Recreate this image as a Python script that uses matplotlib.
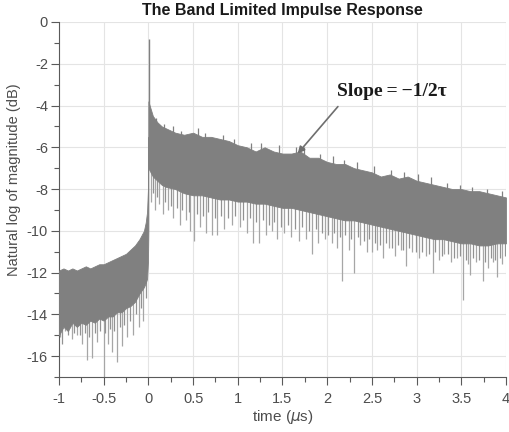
import numpy as np
import matplotlib
matplotlib.use("Agg")
import matplotlib.pyplot as plt
from matplotlib.ticker import MultipleLocator

plt.rcParams["font.family"] = ["Liberation Sans", "DejaVu Sans"]
plt.rcParams["axes.unicode_minus"] = False

# 0 이전 구간: 위/아래 포락선
t_pre = [-1.0, -0.95, -0.9, -0.85, -0.8, -0.75, -0.7, -0.65, -0.6, -0.55, -0.5,
         -0.45, -0.4, -0.35, -0.3, -0.25, -0.2, -0.15, -0.1, -0.05, -0.03, -0.015, -0.005, 0.0]
upper_pre = [-11.9, -11.8, -11.9, -11.8, -11.9, -11.8, -11.7, -11.8, -11.7, -11.6, -11.6,
             -11.5, -11.4, -11.3, -11.2, -11.1, -10.9, -10.7, -10.4, -10.0, -9.6, -9.1, -8.0, -5.5]
lower_pre = [-15.0, -14.6, -14.8, -14.4, -14.6, -14.4, -14.5, -14.3, -14.4, -14.2, -14.3,
             -14.1, -14.1, -13.9, -13.9, -13.7, -13.6, -13.4, -13.0, -12.7, -12.5, -12.3, -11.5, -10.0]

# 0 이후 구간
t_post = [0.0, 0.05, 0.1, 0.15, 0.2, 0.3, 0.4, 0.5, 0.6, 0.7, 0.8, 0.9, 1.0, 1.1, 1.2, 1.3,
          1.4, 1.5, 1.6, 1.7, 1.8, 1.9, 2.0, 2.1, 2.2, 2.3, 2.4, 2.5, 2.6, 2.7, 2.8, 2.9,
          3.0, 3.1, 3.2, 3.3, 3.4, 3.5, 3.6, 3.7, 3.8, 3.9, 4.0]
upper_post = [-3.8, -4.5, -4.8, -5.0, -5.1, -5.3, -5.4, -5.3, -5.5, -5.5, -5.6, -5.7, -5.9,
              -6.0, -6.2, -6.0, -6.2, -6.3, -6.3, -6.2, -6.5, -6.5, -6.7, -6.8, -6.8, -7.0,
              -7.1, -7.2, -7.4, -7.3, -7.5, -7.4, -7.6, -7.7, -7.8, -7.9, -8.0, -8.0, -8.1,
              -8.1, -8.2, -8.3, -8.4]
lower_post = [-7.0, -7.4, -7.6, -7.8, -7.9, -8.0, -8.2, -8.3, -8.3, -8.4, -8.5, -8.5, -8.6,
              -8.6, -8.7, -8.7, -8.8, -8.9, -8.9, -9.0, -9.1, -9.2, -9.3, -9.4, -9.5, -9.5,
              -9.6, -9.7, -9.8, -9.9, -10.0, -10.1, -10.2, -10.3, -10.4, -10.4, -10.5, -10.6,
              -10.6, -10.7, -10.7, -10.6, -10.6]

# 아래로 튀는 긴 스파이크 (시간, 최저값)
spike_pre_t = [-0.99, -0.93, -0.86, -0.8, -0.74, -0.69, -0.63, -0.57, -0.5, -0.45, -0.41,
               -0.35, -0.3, -0.24, -0.17, -0.11, -0.06]
spike_pre_y = [-15.1, -14.8, -15.2, -15.0, -15.4, -16.2, -16.1, -15.3, -17.0, -15.4, -15.8,
               -16.3, -15.5, -15.1, -15.0, -14.6, -14.3]
spike_post_t = [0.03, 0.07, 0.12, 0.16, 0.22, 0.28, 0.35, 0.42, 0.47, 0.51, 0.58, 0.64, 0.71,
                0.77, 0.85, 0.93, 1.02, 1.1, 1.17, 1.24, 1.32, 1.38, 1.44, 1.52, 1.6, 1.68,
                1.76, 1.83, 1.9, 1.97, 2.05, 2.11, 2.17, 2.24, 2.3, 2.37, 2.44, 2.5, 2.56,
                2.62, 2.69, 2.76, 2.82, 2.88, 2.95, 3.03, 3.1, 3.18, 3.25, 3.31, 3.38, 3.45,
                3.52, 3.57, 3.6, 3.67, 3.74, 3.8, 3.86, 3.9, 3.96]
spike_post_y = [-8.6, -9.0, -8.7, -9.2, -9.0, -9.4, -9.7, -9.5, -10.0, -10.5, -9.8, -10.1,
                -10.2, -10.2, -9.9, -9.7, -9.8, -10.1, -10.6, -10.6, -10.2, -10.0, -10.4,
                -10.1, -10.3, -10.5, -10.4, -11.1, -10.6, -10.4, -10.6, -10.8, -12.4, -10.9,
                -12.0, -10.7, -11.0, -11.0, -10.9, -11.3, -10.8, -11.2, -10.9, -11.7, -11.0,
                -11.3, -11.2, -12.0, -11.4, -11.1, -11.5, -11.3, -13.3, -11.6, -12.1, -11.5,
                -12.4, -11.8, -11.5, -12.2, -11.6]

# 짧은 스파이크 (밴드 바로 아래)
short_pre_t = [-0.97, -0.9, -0.83, -0.77, -0.71, -0.66, -0.6, -0.54, -0.48, -0.43, -0.38,
               -0.32, -0.27, -0.21, -0.14, -0.08, -0.03]
short_pre_y = [-15.4, -15.0, -14.9, -15.0, -14.9, -15.1, -14.9, -14.8, -14.9, -14.7, -14.8,
               -14.6, -14.5, -14.3, -14.0, -13.7, -13.2]
short_post_t = [0.05, 0.1, 0.19, 0.25, 0.32, 0.38, 0.45, 0.54, 0.61, 0.67, 0.74, 0.81, 0.89,
                0.97, 1.06, 1.14, 1.2, 1.28, 1.35, 1.41, 1.48, 1.56, 1.64, 1.72, 1.8, 1.87,
                1.94, 2.01, 2.08, 2.14, 2.2, 2.27, 2.34, 2.41, 2.47, 2.53, 2.59, 2.66, 2.72,
                2.79, 2.85, 2.92, 2.99, 3.06, 3.14, 3.21, 3.28, 3.35, 3.42, 3.48, 3.55, 3.63,
                3.7, 3.77, 3.83, 3.88, 3.93, 3.99]
short_post_y = [-8.2, -8.4, -8.6, -8.8, -8.9, -9.0, -9.1, -9.2, -9.3, -9.1, -9.4, -9.3, -9.4,
                -9.3, -9.5, -9.4, -9.6, -9.5, -9.7, -9.6, -9.8, -9.7, -9.9, -9.8, -10.0, -9.9,
                -10.1, -10.2, -10.1, -10.3, -10.2, -10.4, -10.3, -10.5, -10.4, -10.6, -10.7,
                -10.6, -10.8, -10.7, -10.9, -10.8, -11.0, -11.0, -11.1, -11.0, -11.2, -11.1,
                -11.3, -11.2, -11.4, -11.3, -11.4, -11.5, -11.3, -11.4, -11.3, -11.2]

# 위로 튀는 톱니 (시간, 최고값)
tooth_t = [0.08, 0.18, 0.27, 0.36, 0.55, 0.63, 0.83, 0.96, 1.15, 1.26, 1.46, 1.65, 1.74,
           1.92, 2.07, 2.19, 2.33, 2.52, 2.71, 2.86, 3.02, 3.16, 3.34, 3.49, 3.62, 3.79, 3.95]
tooth_y = [-4.6, -4.9, -5.0, -5.2, -5.1, -5.3, -5.4, -5.6, -5.8, -5.8, -5.9, -6.0, -6.0,
           -6.3, -6.4, -6.6, -6.7, -6.9, -7.1, -7.2, -7.3, -7.4, -7.7, -7.8, -7.9, -8.0, -8.1]

peak_t = 0.007
peak_y = -0.8

x_ticks = [-1, -0.5, 0, 0.5, 1, 1.5, 2, 2.5, 3, 3.5, 4]
x_ticklabels = ["-1", "-0.5", "0", "0.5", "1", "1.5", "2", "2.5", "3", "3.5", "4"]
y_ticks = [0, -2, -4, -6, -8, -10, -12, -14, -16]

SIG = "#808080"
SPIKE = "#a6a6a6"
TXT = "#4d4d4d"

fig = plt.figure(figsize=(5.09, 4.32), dpi=100)
ax = fig.add_axes([0.1159, 0.1273, 0.8782, 0.8218])

# 스파이크는 밴드 뒤에 그려서 밴드와 이어지게
ax.vlines(spike_pre_t, spike_pre_y, np.interp(spike_pre_t, t_pre, lower_pre) + 0.3,
          color=SPIKE, lw=0.9, zorder=2)
ax.vlines(spike_post_t, spike_post_y, np.interp(spike_post_t, t_post, lower_post) + 0.3,
          color=SPIKE, lw=0.9, zorder=2)
ax.vlines(short_pre_t, short_pre_y, np.interp(short_pre_t, t_pre, lower_pre) + 0.3,
          color="#929292", lw=0.9, zorder=2)
ax.vlines(short_post_t, short_post_y, np.interp(short_post_t, t_post, lower_post) + 0.3,
          color="#929292", lw=0.9, zorder=2)
ax.vlines(tooth_t, np.interp(tooth_t, t_post, upper_post) - 0.3, tooth_y,
          color=SIG, lw=0.9, zorder=2)
ax.fill_between(t_pre, lower_pre, upper_pre, color=SIG, lw=0.6, edgecolor=SIG, zorder=3)
ax.fill_between(t_post, lower_post, upper_post, color=SIG, lw=0.6, edgecolor=SIG, zorder=3)
ax.vlines([peak_t], [lower_post[0]], [peak_y], color=SIG, lw=1.0, zorder=3)

ax.set_xlim(-1, 4)
ax.set_ylim(-17, 0)
ax.set_xticks(x_ticks)
ax.set_xticklabels(x_ticklabels)
ax.set_yticks(y_ticks)
ax.xaxis.set_minor_locator(MultipleLocator(0.25))
ax.yaxis.set_minor_locator(MultipleLocator(1))
ax.grid(True, which="major", color="#e4e4e4", lw=0.8, zorder=0)
ax.set_axisbelow(True)
for s in ["top", "right"]:
    ax.spines[s].set_visible(False)
for s in ["left", "bottom"]:
    ax.spines[s].set_color("#5a5a5a")
    ax.spines[s].set_linewidth(0.8)
ax.tick_params(which="major", direction="out", length=6, width=0.8, color="#5a5a5a",
               labelsize=10.5, labelcolor=TXT)
ax.tick_params(axis="x", which="major", pad=5)
ax.tick_params(axis="y", which="major", pad=2)
ax.tick_params(which="minor", direction="out", length=3.5, width=0.8, color="#5a5a5a")

ax.set_xlabel("time ($\\mu$s)", fontsize=11, color=TXT, labelpad=1)
ax.set_ylabel("Natural log of magnitude (dB)", fontsize=10.5, color=TXT)
ax.yaxis.set_label_coords(-0.085, 0.555)
ax.set_title("The Band Limited Impulse Response", fontsize=11.5, fontweight="bold",
             color="#1a1a1a", pad=5)

ax.annotate("", xy=(1.67, -6.3), xytext=(2.12, -4.05),
            arrowprops=dict(arrowstyle="-|>", color="#6e6e6e", lw=1.2,
                            mutation_scale=10, shrinkA=0, shrinkB=0), zorder=5)
ax.text(2.72, -3.33, "Slope\u2009=\u2009\u22121/2\u03c4", family=["Liberation Serif", "DejaVu Serif"],
        fontweight="bold", fontsize=14, ha="center", va="center", color="#1a1a1a", zorder=6)

fig.savefig("out.png", dpi=100)
